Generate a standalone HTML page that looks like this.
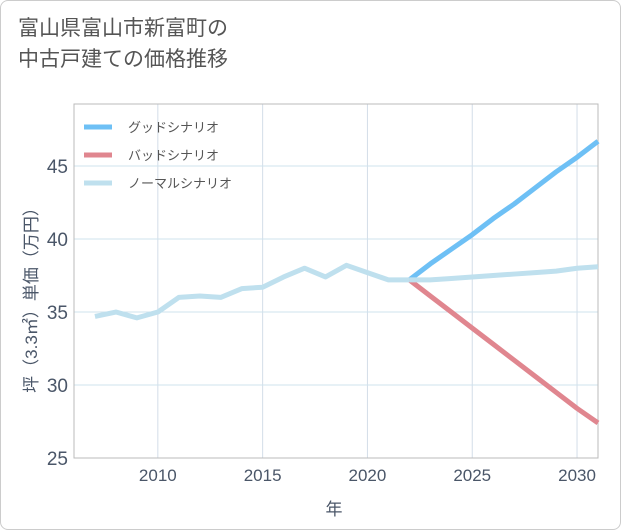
<!DOCTYPE html>
<html><head><meta charset="utf-8"><style>
body{margin:0;background:#fff;}
#wrap{position:relative;width:619px;height:528px;border:1px solid #ccc;border-radius:8px;overflow:hidden;background:#fff;font-family:"Liberation Sans","Noto Sans CJK JP",sans-serif;}
#title{position:absolute;left:17px;top:12px;font-size:21px;line-height:31px;color:#555;}
svg{position:absolute;left:0;top:0}
</style></head><body>
<div id="wrap">
<div id="title">富山県富山市新富町の<br>中古戸建ての価格推移</div>
<svg id="chart" width="621" height="530"></svg>
</div>
<script>
const histYears=[2007,2008,2009,2010,2011,2012,2013,2014,2015,2016,2017,2018,2019,2020,2021,2022];
const histValues=[34.7,35.0,34.6,35.0,36.0,36.1,36.0,36.6,36.7,37.4,38.0,37.4,38.2,37.7,37.2,37.2];
const projYears=[2022,2023,2024,2025,2026,2027,2028,2029,2030,2031];
const goodValues=[37.2,38.3,39.3,40.3,41.4,42.4,43.5,44.6,45.6,46.7];
const badValues=[37.2,36.1,35.0,33.9,32.8,31.7,30.6,29.5,28.4,27.4];
const normalValues=[37.2,37.2,37.3,37.4,37.5,37.6,37.7,37.8,38.0,38.1];
const xTicks=[2010,2015,2020,2025,2030];
const yTicks=[25,30,35,40,45];
const seriesNames=["グッドシナリオ","バッドシナリオ","ノーマルシナリオ"];
const seriesColors=["#6ec0f5","#e0868f","#bfe0ee"];
const L=73,R=597,T=103,B=457;
const x=y=>L+(y-2006)*(R-L)/25;
const yv=v=>B-(v-25)*(B-T)/24.25;
const svg=document.getElementById('chart');const NS='http://www.w3.org/2000/svg';
function mk(t,a,p){const e=document.createElementNS(NS,t);for(const k in a)e.setAttribute(k,a[k]);(p||svg).appendChild(e);return e;}
let e;
xTicks.forEach(t=>{e=mk('line',{x1:x(t),x2:x(t),y1:T,y2:B,stroke:'#d3dde8','stroke-width':1});


e=mk('text',{x:x(t),y:480,'text-anchor':'middle','font-size':17,fill:'#4a5668'});e.textContent=t;

});
yTicks.forEach(t=>{e=mk('line',{x1:L,x2:R,y1:yv(t),y2:yv(t),stroke:'#cfe3ee','stroke-width':1});


e=mk('text',{x:67,y:yv(t)+7,'text-anchor':'end','font-size':19,fill:'#4a5668'});e.textContent=t;

});
e=mk('rect',{x:L,y:T,width:R-L,height:B-T,fill:'none',stroke:'#bbb','stroke-width':1});


function line(xs,vs,c,name){const p=mk('polyline',{points:xs.map((t,i)=>x(t)+','+yv(vs[i])).join(' '),fill:'none',stroke:c,'stroke-width':5,'stroke-linejoin':'round'});

}
line(projYears,goodValues,seriesColors[0],'good-scenario-line');
line(projYears,badValues,seriesColors[1],'bad-scenario-line');
line(projYears,normalValues,seriesColors[2],'normal-scenario-line');
line(histYears,histValues,seriesColors[2],'historical-line');
seriesNames.forEach((n,i)=>{const yy=126+i*28;
e=mk('line',{x1:83,x2:111,y1:yy,y2:yy,stroke:seriesColors[i],'stroke-width':5});


e=mk('text',{x:127,y:yy+5,'font-size':13,fill:'#555'});e.textContent=n;

});
e=mk('text',{x:333,y:514,'text-anchor':'middle','font-size':17,fill:'#4a5668'});e.textContent='年';


e=mk('text',{x:0,y:0,'text-anchor':'middle','font-size':17,fill:'#4a5668',transform:'translate(36,295) rotate(-90)'});e.textContent='坪（3.3㎡）単価（万円）';


</script>
</body></html>
